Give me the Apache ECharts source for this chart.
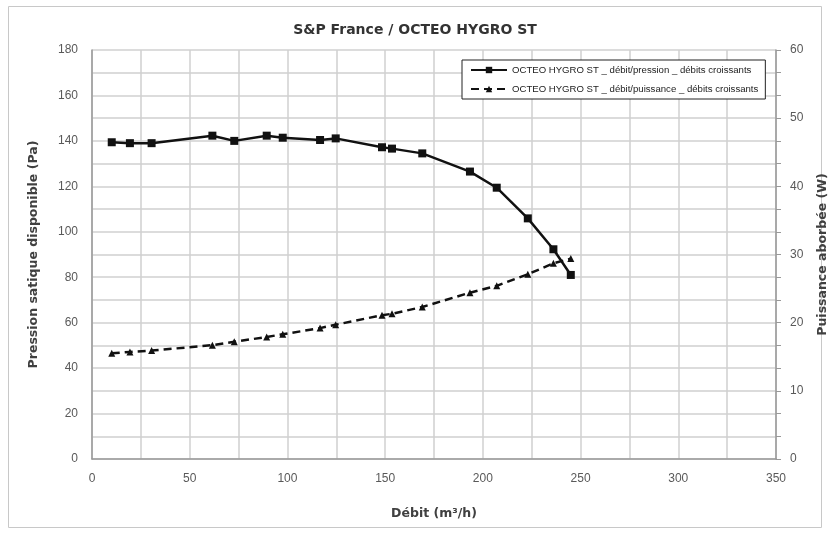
<!DOCTYPE html>
<html>
<head>
<meta charset="utf-8">
<script src="https://cdn.jsdelivr.net/npm/echarts@6/dist/echarts.min.js"></script>
<style>html,body{margin:0;padding:0;background:#fff}#c{width:830px;height:533px}</style>
</head>
<body>
<div id="c"></div>
<script>
const titleText = 'S&P France / OCTEO HYGRO ST';
const seriesNames = ['OCTEO HYGRO ST _ débit/pression _ débits croissants', 'OCTEO HYGRO ST _ débit/puissance _ débits croissants'];
const debit = [10.1, 19.4, 30.5, 61.6, 72.8, 89.4, 97.6, 116.7, 124.7, 148.4, 153.5, 169, 193.4, 207.1, 223, 236.1, 245];
const pression = [139.4, 139, 139, 142.3, 140, 142.3, 141.4, 140.4, 141.1, 137.2, 136.6, 134.5, 126.5, 119.4, 105.9, 92.3, 81];
const puissance = [15.5, 15.7, 15.9, 16.7, 17.2, 17.9, 18.3, 19.2, 19.7, 21.1, 21.3, 22.3, 24.4, 25.4, 27.1, 28.7, 29.4];
const xTitle = 'Débit (m³/h)';
const yLeftTitle = 'Pression satique disponible (Pa)';
const yRightTitle = 'Puissance aborbée (W)';

const chart = echarts.init(document.getElementById('c'), null, {renderer: 'canvas'});
const gridColor = '#d0d0d0';
const labelStyle = {color: '#595959', fontFamily: 'Liberation Sans', fontSize: 12};
const axisTitleStyle = {color: '#404040', fontFamily: 'DejaVu Sans', fontWeight: 'bold', fontSize: 12.5};
chart.setOption({
  animation: false,
  backgroundColor: '#fff',
  graphic: [{type: 'rect', shape: {x: 8.5, y: 6.5, width: 813, height: 521}, style: {fill: 'none', stroke: '#c8c8c8', lineWidth: 1}, silent: true}],
  title: {text: titleText, left: 'center', top: 18, textStyle: {fontFamily: 'DejaVu Sans', fontWeight: 'bold', fontSize: 14, color: '#333'}},
  legend: {
    orient: 'vertical', left: 462, top: 60, padding: [5, 7, 5, 8],
    borderColor: '#222', borderWidth: 1, backgroundColor: '#fff',
    itemWidth: 36, itemHeight: 8, itemGap: 9,
    textStyle: {fontFamily: 'Liberation Sans', fontSize: 9.6, color: '#222'},
    data: seriesNames
  },
  grid: {left: 92, right: 54, top: 50, bottom: 74, outerBoundsMode: 'none', containLabel: false},
  xAxis: {
    type: 'value', min: 0, max: 350, interval: 50,
    name: xTitle, nameLocation: 'middle', nameGap: 48, nameTextStyle: axisTitleStyle,
    axisLine: {lineStyle: {color: '#999', width: 1.5}},
    axisTick: {show: false},
    minorTick: {show: false, splitNumber: 2},
    axisLabel: Object.assign({margin: 14}, labelStyle),
    splitLine: {show: true, lineStyle: {color: gridColor, width: 1.5}},
    minorSplitLine: {show: true, lineStyle: {color: gridColor, width: 1.5}}
  },
  yAxis: [{
    type: 'value', min: 0, max: 180, interval: 20, position: 'left',
    name: yLeftTitle, nameLocation: 'middle', nameGap: 52, nameTextStyle: axisTitleStyle,
    axisLine: {show: true, lineStyle: {color: '#999', width: 1.5}},
    axisTick: {show: false},
    minorTick: {show: false, splitNumber: 2},
    axisLabel: Object.assign({margin: 14}, labelStyle),
    splitLine: {show: true, lineStyle: {color: gridColor, width: 1.5}},
    minorSplitLine: {show: true, lineStyle: {color: gridColor, width: 1.5}}
  }, {
    type: 'value', min: 0, max: 60, interval: 10, position: 'right',
    name: yRightTitle, nameLocation: 'middle', nameGap: 40, nameRotate: 90, nameTextStyle: axisTitleStyle,
    axisLine: {show: true, lineStyle: {color: '#999', width: 1.5}},
    axisTick: {show: true, length: 5, lineStyle: {color: '#999'}},
    minorTick: {show: true, splitNumber: 3, length: 5, lineStyle: {color: '#999'}},
    axisLabel: Object.assign({margin: 14}, labelStyle),
    splitLine: {show: false}
  }],
  series: [{
    name: seriesNames[0], type: 'line', yAxisIndex: 0,
    data: debit.map((d, i) => [d, pression[i]]),
    symbol: 'rect', symbolSize: 8,
    itemStyle: {color: '#111'},
    lineStyle: {color: '#111', width: 2.5},
    z: 3
  }, {
    name: seriesNames[1], type: 'line', yAxisIndex: 1,
    data: debit.map((d, i) => [d, puissance[i]]),
    symbol: 'triangle', symbolSize: 7,
    itemStyle: {color: '#111'},
    lineStyle: {color: '#111', width: 2.5, type: [8, 5]},
    z: 3
  }]
});
</script>
</body>
</html>
